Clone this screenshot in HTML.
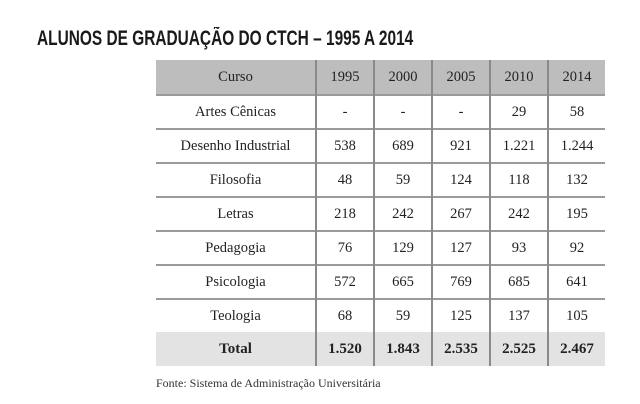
<!DOCTYPE html>
<html><head><meta charset="utf-8"><style>
body{margin:0;background:#fff;width:640px;height:404px;position:relative;overflow:hidden;font-family:"Liberation Serif",serif;color:#222}
.t{position:absolute;left:37px;top:27px;font-family:"Liberation Sans Narrow","Liberation Sans",sans-serif;font-weight:bold;font-size:21px;color:#1a1a1a;white-space:nowrap;transform-origin:left top;transform:scaleX(0.735)}
table{position:absolute;left:156px;top:60px;border-collapse:collapse;font-size:14.5px}
td{height:32px;padding:0;text-align:center;border-left:2px solid #8a8a8a;border-top:2px solid #9a9a9a}
tr td:first-child{border-left:none;width:159px}
td.n{width:56px}
tr.h td{background:#bdbdbd;border-top:none;height:34px}
tr.tot td{background:#e3e3e3;font-weight:bold;border-top:none;font-size:15px;height:34px}
.f{position:absolute;left:156px;top:376px;font-size:12px;color:#333}
</style></head><body>
<div class="t">ALUNOS DE GRADUAÇÃO DO CTCH – 1995 A 2014</div>
<table>
<tr class="h"><td>Curso</td><td class="n">1995</td><td class="n">2000</td><td class="n">2005</td><td class="n">2010</td><td class="n">2014</td></tr>
<tr><td>Artes Cênicas</td><td>-</td><td>-</td><td>-</td><td>29</td><td>58</td></tr>
<tr><td>Desenho Industrial</td><td>538</td><td>689</td><td>921</td><td>1.221</td><td>1.244</td></tr>
<tr><td>Filosofia</td><td>48</td><td>59</td><td>124</td><td>118</td><td>132</td></tr>
<tr><td>Letras</td><td>218</td><td>242</td><td>267</td><td>242</td><td>195</td></tr>
<tr><td>Pedagogia</td><td>76</td><td>129</td><td>127</td><td>93</td><td>92</td></tr>
<tr><td>Psicologia</td><td>572</td><td>665</td><td>769</td><td>685</td><td>641</td></tr>
<tr><td>Teologia</td><td>68</td><td>59</td><td>125</td><td>137</td><td>105</td></tr>
<tr class="tot"><td>Total</td><td>1.520</td><td>1.843</td><td>2.535</td><td>2.525</td><td>2.467</td></tr>
</table>
<div class="f">Fonte: Sistema de Administração Universitária</div>
</body></html>
